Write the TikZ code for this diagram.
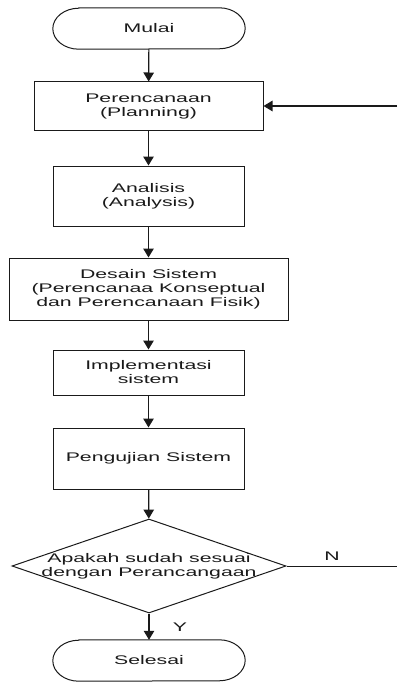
\documentclass[tikz,border=0pt]{standalone}
\usepackage{fontspec}
\setmainfont[FakeStretch=1.7]{Liberation Sans}
\usetikzlibrary{arrows.meta,shapes.geometric}
\definecolor{ink}{HTML}{1A1A1A}
\begin{document}
\begin{tikzpicture}[x=1pt,y=-1pt,
  every node/.style={font=\fontsize{12.5}{14}\selectfont, align=center, inner sep=0pt, text=ink},
  term/.style={rectangle, minimum width=192pt, minimum height=41pt},
  termline/.style={draw=ink, line width=1pt},
  proc/.style={draw=ink, line width=1pt, rectangle},
  dec/.style={draw=ink, line width=1pt, diamond, minimum width=274pt, minimum height=94pt},
  flow/.style={draw=ink, line width=1.2pt, -{Triangle[width=10.5pt,length=9pt]}},
  plain/.style={draw=ink, line width=1pt}]
\useasboundingbox (0,0) rectangle (397,682);
\node[term] (mulai) at (149,28.5) {Mulai};
\node[proc, minimum width=229pt, minimum height=48pt] (plan) at (148.5,106) {Perencanaan\\(Planning)};
\node[proc, minimum width=191pt, minimum height=60pt] (anal) at (148.5,196) {Analisis\\(Analysis)};
\node[proc, minimum width=279pt, minimum height=62pt] (desain) at (148.5,289) {Desain Sistem\\(Perencanaa Konseptual\\dan Perencanaan Fisik)};
\node[proc, minimum width=191pt, minimum height=45pt] (impl) at (148.5,372.5) {Implementasi\\sistem};
\node[proc, minimum width=191pt, minimum height=61pt] (uji) at (148.5,458.5) {Pengujian Sistem};
\node[dec, label={center:Apakah sudah sesuai\\dengan Perancangaan}] (cek) at (149,566) {};
\node[term] (selesai) at (149,660.5) {Selesai};
\foreach \t in {mulai,selesai}{
  \draw[termline] ([xshift=26pt]\t.north west) -- ([xshift=-26pt]\t.north east)
    arc[start angle=90,end angle=-90,x radius=26pt,y radius=20.5pt]
    -- ([xshift=26pt]\t.south west)
    arc[start angle=270,end angle=90,x radius=26pt,y radius=20.5pt] -- cycle;
}
\coordinate (rin) at (397,106);
\coordinate (nout) at (397,566);
\node (nlab) at (332,556) {N};
\node (ylab) at (180,627) {Y};
\draw[flow] (mulai) -- (plan);
\draw[flow] (plan) -- (anal);
\draw[flow] (anal) -- (desain);
\draw[flow] (desain) -- (impl);
\draw[flow] (impl) -- (uji);
\draw[flow] (uji) -- (cek);
\draw[flow] (cek) -- (selesai);
\draw[plain] (cek.east) -- (nout);
\draw[flow] (rin) -- (plan.east);
\end{tikzpicture}
\end{document}
